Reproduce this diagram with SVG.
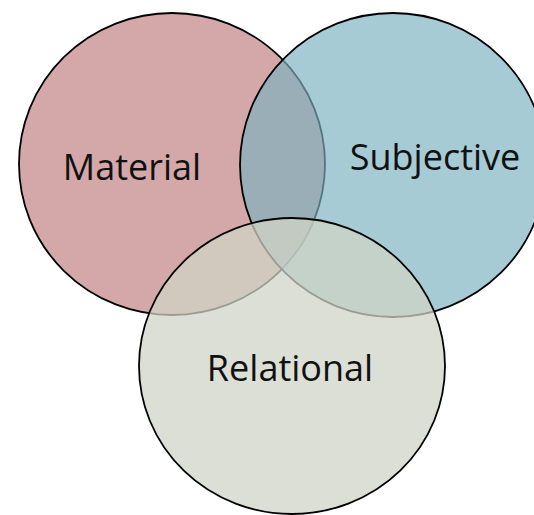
<svg xmlns="http://www.w3.org/2000/svg" width="534" height="515" viewBox="0 0 534 515">
  <style>
    .c { stroke: #000; stroke-width: 1.8; }
    .t { font-family: "Open Sans", "Noto Sans", "DejaVu Sans", sans-serif; font-size: 36px; fill: #111; text-anchor: middle; }
  </style>
  <rect width="534" height="515" fill="#fff"/>
  <g id="material">
    <ellipse class="c" cx="172" cy="164" rx="153" ry="151" fill="#d4a8a8"/>
  </g>
  <g id="subjective">
    <ellipse class="c" cx="393" cy="165" rx="153" ry="152" fill="#7cb2bf" fill-opacity="0.67"/>
  </g>
  <g id="relational">
    <ellipse class="c" cx="292" cy="366" rx="153" ry="148" fill="#d0d4c7" fill-opacity="0.74"/>
  </g>
  <g id="labels">
    <text class="t" x="132" y="180">Material</text>
    <text class="t" x="435" y="170">Subjective</text>
    <text class="t" x="290" y="381">Relational</text>
  </g>
</svg>
